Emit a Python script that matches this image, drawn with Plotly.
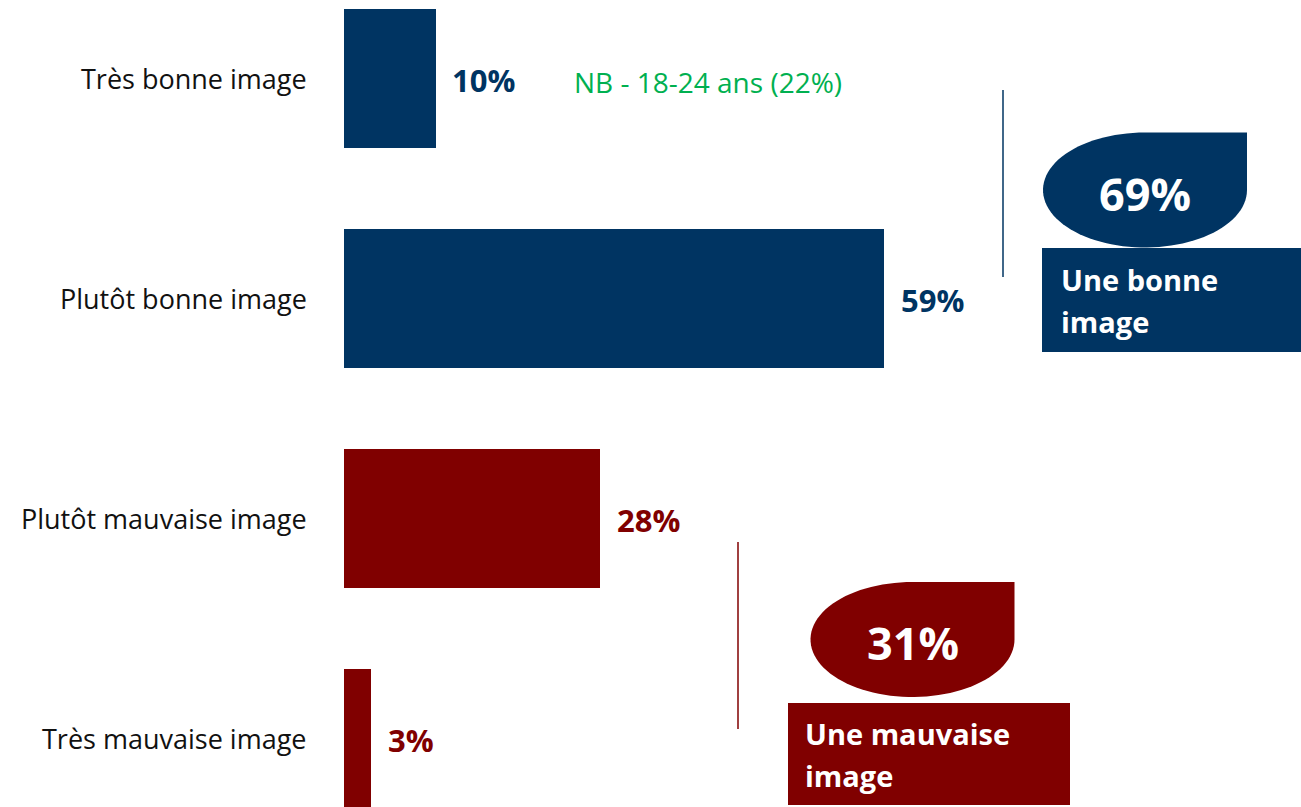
import numpy as np
import plotly.graph_objects as go

# Data
categories = ["Très bonne image", "Plutôt bonne image", "Plutôt mauvaise image", "Très mauvaise image"]
values = [10, 59, 28, 3]
bar_groups = [0, 0, 1, 1]

group_labels = ["Une bonne<br>image", "Une mauvaise<br>image"]
group_totals = [69, 31]
note_text = "NB - 18-24 ans (22%)"

# Styles
W, H = 1301, 807
BLUE = "#003462"
RED = "#800000"
GREEN = "#00B050"
group_colors = [BLUE, RED]
FONT = "Open Sans"

X0 = 343.5      # pixel where value 0 sits
PX_PER_PCT = 9.16
Y0 = 78.5       # pixel centre of first category
PX_PER_CAT = 220
LINE_GAP = 42   # pixels between lines in the badge boxes


def px(x):
    return x / W


def py(y):
    return 1 - y / H


def teardrop_path(cx, cy, rx, ry):
    # ellipse with square top-right corner
    pts = [(cx + rx, cy)]
    for t in np.linspace(0, 1.5 * np.pi, 80):
        pts.append((cx + rx * np.cos(t), cy + ry * np.sin(t)))
    pts.append((cx + rx, cy - ry))
    d = "M " + " L ".join(f"{px(a):.5f},{py(b):.5f}" for a, b in pts) + " Z"
    return d


fig = go.Figure()

fig.add_trace(go.Bar(
    y=list(range(len(categories))),
    x=values,
    orientation="h",
    width=0.632,
    marker=dict(color=[group_colors[g] for g in bar_groups], line=dict(width=0)),
    hoverinfo="skip",
))

annotations = []
for i, (cat, v, g) in enumerate(zip(categories, values, bar_groups)):
    annotations.append(dict(
        x=0, y=i, xref="x", yref="y", text=cat, showarrow=False,
        xanchor="right", yanchor="middle", xshift=-34,
        font=dict(family=FONT, size=27, color="#111111"),
    ))
    annotations.append(dict(
        x=v, y=i, xref="x", yref="y", text=f"<b>{v}%</b>", showarrow=False,
        xanchor="left", yanchor="middle", xshift=15, yshift=-1,
        font=dict(family=FONT, size=31, color=group_colors[g]),
    ))

annotations.append(dict(
    x=px(572), y=py(82), xref="paper", yref="paper", text=note_text,
    showarrow=False, xanchor="left", yanchor="middle",
    font=dict(family=FONT, size=28, color=GREEN),
))

# group badges: (line x, line y0, line y1, ellipse cx, cy, rect x0, y0, x1, y1, text x)
badges = [
    (1003, 90, 277, 1145, 190, 1042, 248, 1305, 352, 1059),
    (738, 542, 729, 912.5, 639.5, 788, 703, 1070, 805, 803),
]
shapes = []
for g, (lx, ly0, ly1, cx, cy, rx0, ry0, rx1, ry1, tx) in enumerate(badges):
    col = group_colors[g]
    shapes.append(dict(type="line", xref="paper", yref="paper",
                       x0=px(lx), x1=px(lx), y0=py(ly0), y1=py(ly1),
                       line=dict(color=col, width=1.5)))
    shapes.append(dict(type="path", xref="paper", yref="paper",
                       path=teardrop_path(cx, cy, 102, 57.5),
                       fillcolor=col, line=dict(width=0)))
    shapes.append(dict(type="rect", xref="paper", yref="paper",
                       x0=px(rx0), x1=px(rx1), y0=py(ry0), y1=py(ry1),
                       fillcolor=col, line=dict(width=0)))
    annotations.append(dict(
        x=px(cx), y=py(cy + 3), xref="paper", yref="paper",
        text=f"<b>{group_totals[g]}%</b>", showarrow=False,
        xanchor="center", yanchor="middle",
        font=dict(family=FONT, size=45, color="white"),
    ))
    lines = group_labels[g].split("<br>")
    mid = (ry0 + ry1) / 2
    for k, line in enumerate(lines):
        ly = mid + (k - (len(lines) - 1) / 2) * LINE_GAP
        annotations.append(dict(
            x=px(tx), y=py(ly), xref="paper", yref="paper",
            text=f"<b>{line}</b>", showarrow=False,
            xanchor="left", yanchor="middle",
            font=dict(family=FONT, size=29, color="white"),
        ))

fig.update_layout(
    width=W, height=H,
    margin=dict(l=0, r=0, t=0, b=0),
    paper_bgcolor="white",
    plot_bgcolor="white",
    showlegend=False,
    bargap=0,
    xaxis=dict(domain=[X0 / W, 1], range=[0, (W - X0) / PX_PER_PCT],
               visible=False, fixedrange=True),
    yaxis=dict(domain=[0, 1],
               range=[(H - Y0) / PX_PER_CAT, -Y0 / PX_PER_CAT],
               visible=False, fixedrange=True),
    shapes=shapes,
    annotations=annotations,
)

fig.write_html("out.html", config={"displayModeBar": False},
               post_script="document.body.style.margin='0';")
